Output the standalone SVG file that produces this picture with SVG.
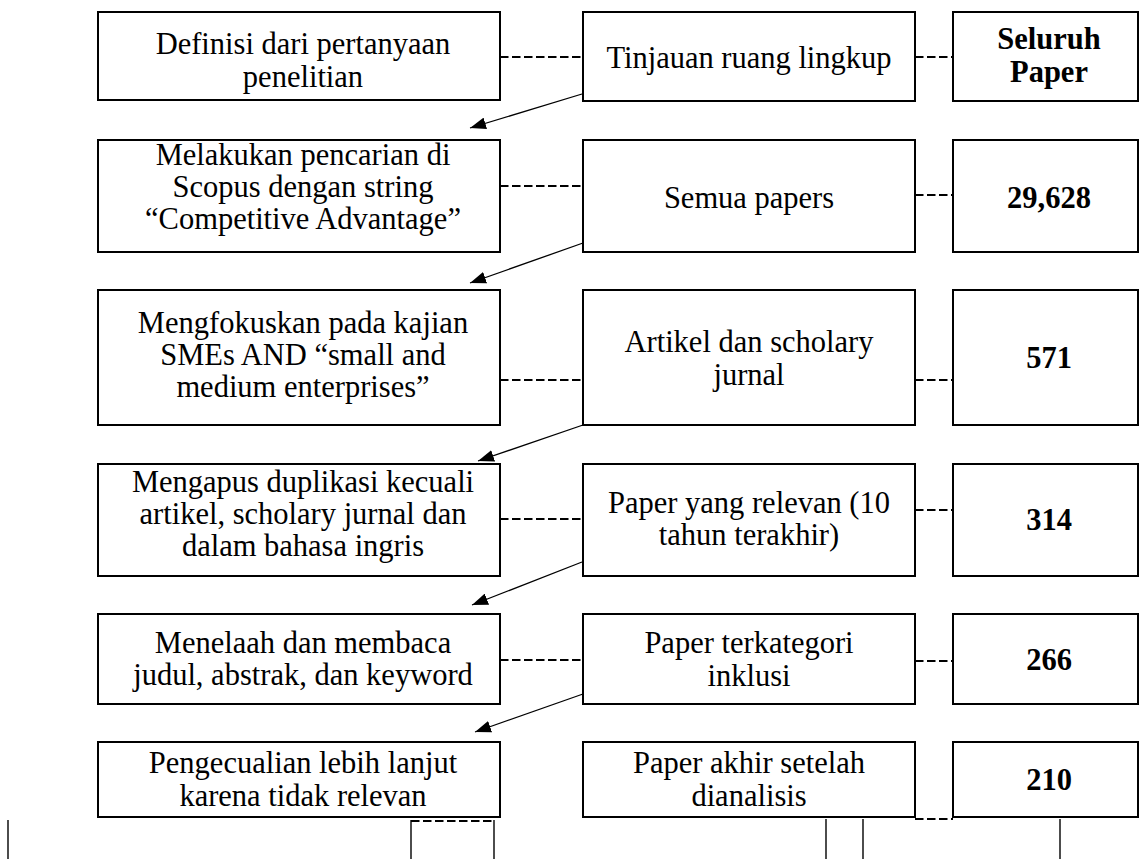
<svg xmlns="http://www.w3.org/2000/svg" width="1139" height="859" viewBox="0 0 1139 859">
<style>
.box{fill:#fff;stroke:#000;stroke-width:2}
.t{font-family:"Liberation Serif","Times New Roman",serif;font-size:30.5px;fill:#000;text-anchor:middle}
.b{font-weight:bold}
.dash{stroke:#000;stroke-width:2;stroke-dasharray:8.5 3.5;fill:none}
.arr{stroke:#000;stroke-width:1.3;fill:none;marker-end:url(#ah)}
.ln{stroke:#000;stroke-width:1.4;fill:none}
</style>
<defs>
<marker id="ah" viewBox="0 0 16 12" markerWidth="16" markerHeight="12" refX="16" refY="6" orient="auto" markerUnits="userSpaceOnUse">
<path d="M0,0 L16,6 L0,12 z" fill="#000"/>
</marker>
</defs>
<rect width="1139" height="859" fill="#fff"/>

<g id="connectors">
<line class="dash" x1="500" y1="57" x2="583" y2="57"/>
<line class="dash" x1="915" y1="57" x2="953" y2="57"/>
<line class="dash" x1="500" y1="186" x2="583" y2="186"/>
<line class="dash" x1="915" y1="195" x2="953" y2="195"/>
<line class="dash" x1="500" y1="380" x2="583" y2="380"/>
<line class="dash" x1="915" y1="380" x2="953" y2="380"/>
<line class="dash" x1="500" y1="519" x2="583" y2="519"/>
<line class="dash" x1="915" y1="510" x2="953" y2="510"/>
<line class="dash" x1="500" y1="660" x2="583" y2="660"/>
<line class="dash" x1="915" y1="661" x2="953" y2="661"/>
<line class="dash" x1="915" y1="819" x2="953" y2="819"/>
<line class="dash" x1="411" y1="821" x2="494" y2="821"/>
<line class="arr" x1="582" y1="94" x2="470" y2="128"/>
<line class="arr" x1="583" y1="243" x2="470" y2="283"/>
<line class="arr" x1="583" y1="425" x2="478" y2="461"/>
<line class="arr" x1="582" y1="562" x2="472" y2="605"/>
<line class="arr" x1="583" y1="694" x2="475" y2="732"/>
<line class="ln" x1="8" y1="820" x2="8" y2="859"/>
<line class="ln" x1="411" y1="820" x2="411" y2="859"/>
<line class="ln" x1="494" y1="820" x2="494" y2="859"/>
<line class="ln" x1="826" y1="819" x2="826" y2="859"/>
<line class="ln" x1="863" y1="819" x2="863" y2="859"/>
<line class="ln" x1="1060" y1="819" x2="1060" y2="859"/>
</g>

<g id="n1a"><rect class="box" x="98" y="12" width="402" height="88"/>
<text class="t" x="303" y="54">Definisi dari pertanyaan</text><text class="t" x="303" y="87">penelitian</text></g>
<g id="n1b"><rect class="box" x="583" y="12" width="332" height="89"/>
<text class="t" x="749" y="68">Tinjauan ruang lingkup</text></g>
<g id="n1c"><rect class="box" x="953" y="12" width="185" height="89"/>
<text class="t b" x="1049" y="49">Seluruh</text><text class="t b" x="1049" y="82">Paper</text></g>

<g id="n2a"><rect class="box" x="98" y="140" width="402" height="112"/>
<text class="t" x="303" y="165">Melakukan pencarian di</text><text class="t" x="303" y="197">Scopus dengan string</text><text class="t" x="303" y="229">“Competitive Advantage”</text></g>
<g id="n2b"><rect class="box" x="583" y="140" width="332" height="112"/>
<text class="t" x="749" y="208">Semua papers</text></g>
<g id="n2c"><rect class="box" x="953" y="140" width="185" height="112"/>
<text class="t b" x="1049" y="208">29,628</text></g>

<g id="n3a"><rect class="box" x="98" y="290" width="402" height="135"/>
<text class="t" x="303" y="333">Mengfokuskan pada kajian</text><text class="t" x="303" y="365">SMEs AND “small and</text><text class="t" x="303" y="397">medium enterprises”</text></g>
<g id="n3b"><rect class="box" x="583" y="290" width="332" height="135"/>
<text class="t" x="749" y="352">Artikel dan scholary</text><text class="t" x="749" y="385">jurnal</text></g>
<g id="n3c"><rect class="box" x="953" y="290" width="185" height="135"/>
<text class="t b" x="1049" y="368">571</text></g>

<g id="n4a"><rect class="box" x="98" y="464" width="402" height="112"/>
<text class="t" x="303" y="492">Mengapus duplikasi kecuali</text><text class="t" x="303" y="524">artikel, scholary jurnal dan</text><text class="t" x="303" y="556">dalam bahasa ingris</text></g>
<g id="n4b"><rect class="box" x="583" y="464" width="332" height="112"/>
<text class="t" x="749" y="513">Paper yang relevan (10</text><text class="t" x="749" y="545">tahun terakhir)</text></g>
<g id="n4c"><rect class="box" x="953" y="464" width="185" height="112"/>
<text class="t b" x="1049" y="530">314</text></g>

<g id="n5a"><rect class="box" x="98" y="614" width="402" height="90"/>
<text class="t" x="303" y="653">Menelaah dan membaca</text><text class="t" x="303" y="685">judul, abstrak, dan keyword</text></g>
<g id="n5b"><rect class="box" x="583" y="614" width="332" height="90"/>
<text class="t" x="749" y="653">Paper terkategori</text><text class="t" x="749" y="686">inklusi</text></g>
<g id="n5c"><rect class="box" x="953" y="614" width="185" height="90"/>
<text class="t b" x="1049" y="670">266</text></g>

<g id="n6a"><rect class="box" x="98" y="742" width="402" height="75"/>
<text class="t" x="303" y="773">Pengecualian lebih lanjut</text><text class="t" x="303" y="806">karena tidak relevan</text></g>
<g id="n6b"><rect class="box" x="583" y="742" width="332" height="75"/>
<text class="t" x="749" y="773">Paper akhir setelah</text><text class="t" x="749" y="806">dianalisis</text></g>
<g id="n6c"><rect class="box" x="953" y="742" width="185" height="75"/>
<text class="t b" x="1049" y="790">210</text></g>
</svg>
